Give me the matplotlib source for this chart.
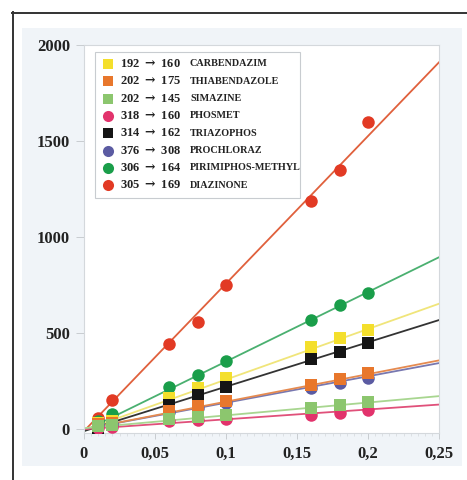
import numpy as np
import matplotlib
matplotlib.use("Agg")
import matplotlib.pyplot as plt
from matplotlib.lines import Line2D
from matplotlib.patches import Rectangle
from matplotlib.ticker import MultipleLocator, FuncFormatter

plt.rcParams['font.family'] = ['Liberation Serif', 'DejaVu Serif']
plt.rcParams['font.weight'] = 'bold'
plt.rcParams['mathtext.fontset'] = 'dejavuserif'

# concentrations (x) and responses per compound
conc = [0.01, 0.02, 0.06, 0.08, 0.1, 0.16, 0.18, 0.2]

transitions = [r"192 $\rightarrow$ 160", r"202 $\rightarrow$ 175", r"202 $\rightarrow$ 145",
               r"318 $\rightarrow$ 160", r"314 $\rightarrow$ 162", r"376 $\rightarrow$ 308",
               r"306 $\rightarrow$ 164", r"305 $\rightarrow$ 169"]
names = ["CARBENDAZIM", "THIABENDAZOLE", "SIMAZINE", "PHOSMET",
         "TRIAZOPHOS", "PROCHLORAZ", "PIRIMIPHOS-METHYL", "DIAZINONE"]

carbendazim = [30, 45, 160, 212, 264, 430, 476, 518]
thiabendazole = [28, 32, 96, 120, 146, 232, 261, 292]
simazine = [15, 20, 54, 62, 72, 112, 126, 140]
phosmet = [5, 12, 40, 48, 52, 74, 86, 100]
triazophos = [3, 30, 126, 176, 222, 366, 402, 448]
prochloraz = [20, 28, 88, 112, 134, 215, 240, 266]
pirimiphos = [40, 80, 222, 284, 354, 567, 648, 708]
diazinone = [60, 150, 445, 560, 752, 1190, 1350, 1600]

# calibration line values at x = 0 and x = 0.25
fit_x = [0, 0.25]
fit_carbendazim = [-5, 653]
fit_thiabendazole = [0, 358]
fit_simazine = [5, 172]
fit_phosmet = [0, 128]
fit_triazophos = [-10, 568]
fit_prochloraz = [0, 344]
fit_pirimiphos = [-10, 895]
fit_diazinone = [-10, 1910]

series = [
    (carbendazim, fit_carbendazim, '#f4df2c', '#f0e57a', 's'),
    (thiabendazole, fit_thiabendazole, '#e8772c', '#e58a50', 's'),
    (simazine, fit_simazine, '#8cc66e', '#a8d690', 's'),
    (phosmet, fit_phosmet, '#e2336c', '#e0507a', 'o'),
    (triazophos, fit_triazophos, '#151515', '#333333', 's'),
    (prochloraz, fit_prochloraz, '#5b5ba2', '#7878b0', 'o'),
    (pirimiphos, fit_pirimiphos, '#1a9e4a', '#4ab070', 'o'),
    (diazinone, fit_diazinone, '#e23a24', '#e0603c', 'o'),
]
draw_order = [7, 6, 0, 4, 5, 1, 3, 2]

fig = plt.figure(figsize=(4.67, 4.80), dpi=100)
fig.patch.set_facecolor('white')
fig.add_artist(Rectangle((22 / 467, 1 - 466 / 480), 440 / 467, 438 / 480,
                         transform=fig.transFigure, facecolor='#f0f4f8',
                         edgecolor='none', zorder=0))
fig.add_artist(Line2D([12.5 / 467, 12.5 / 467], [0, 1 - 12 / 480],
                      transform=fig.transFigure, color='#333333', lw=1.4))
fig.add_artist(Line2D([12 / 467, 1], [1 - 12.5 / 480, 1 - 12.5 / 480],
                      transform=fig.transFigure, color='#333333', lw=1.4))

ax = fig.add_axes([84 / 467, 1 - 433 / 480, 355 / 467, 388 / 480])
ax.set_facecolor('white')

for i in draw_order:
    y, fit, mc, lc, mk = series[i]
    ax.plot(fit_x, fit, color=lc, lw=1.3, zorder=2)
    ax.plot(conc, y, linestyle='none', marker=mk, color=mc,
            markersize=9 if mk == 'o' else 8, markeredgewidth=0, zorder=3)

ax.set_xlim(0, 0.25)
ax.set_ylim(-20, 2000)
ax.xaxis.set_major_locator(MultipleLocator(0.05))
ax.xaxis.set_minor_locator(MultipleLocator(0.005))
ax.yaxis.set_major_locator(MultipleLocator(500))
ax.xaxis.set_major_formatter(FuncFormatter(lambda v, p: ('%g' % round(v, 3)).replace('.', ',')))

for s in ax.spines.values():
    s.set_color('#d4d8dc')
    s.set_linewidth(0.8)
ax.tick_params(axis='y', which='major', length=6, width=0.7, color='#c8ccd0',
               labelsize=12, labelcolor='#222222', pad=4)
ax.tick_params(axis='x', which='major', length=4, width=0.7, color='#c8ccd0',
               labelsize=12, labelcolor='#222222', pad=5)
ax.tick_params(axis='x', which='minor', length=2, width=0.5, color='#d4d8dc')
for t in ax.get_xticklabels() + ax.get_yticklabels():
    t.set_fontweight('bold')

# legend box drawn by hand so the two text columns line up
def ax_x(px):
    return (px - 84) / 355

def ax_y(py):
    return (433 - py) / 388

ax.add_patch(Rectangle((ax_x(95), ax_y(198)), ax_x(300) - ax_x(95), ax_y(52) - ax_y(198),
                       transform=ax.transAxes, facecolor='white', edgecolor='#c8ccd0',
                       lw=0.8, zorder=5))
for k, s in enumerate(series):
    row_y = ax_y(64 + k * 17.3)
    ax.plot([ax_x(108)], [row_y], transform=ax.transAxes, linestyle='none',
            marker=s[4], color=s[2], markersize=8 if s[4] == 'o' else 7,
            markeredgewidth=0, clip_on=False, zorder=6)
    ax.text(ax_x(120), row_y, transitions[k], transform=ax.transAxes,
            fontsize=9, fontweight='bold', color='#222222', va='center', ha='left', zorder=6)
    ax.text(ax_x(190), row_y, names[k], transform=ax.transAxes,
            fontsize=7.3, fontweight='bold', color='#222222', va='center', ha='left', zorder=6)

fig.savefig('out.png', dpi=100)
